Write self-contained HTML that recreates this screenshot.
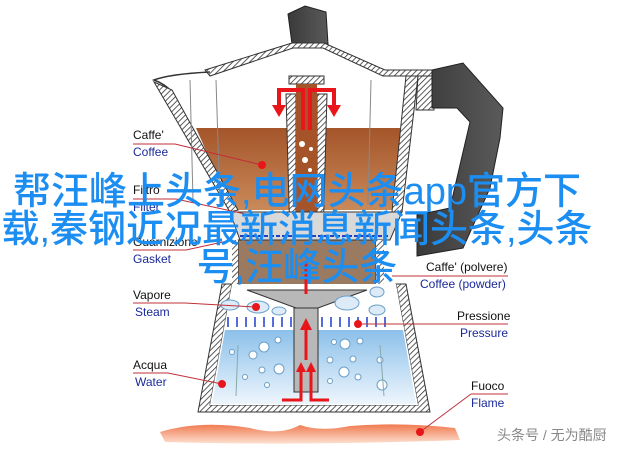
<!DOCTYPE html>
<html><head><meta charset="utf-8"><style>
html,body{margin:0;padding:0;background:#fff;width:640px;height:449px;overflow:hidden;position:relative}
svg{position:absolute;left:0;top:0}
.ov{position:absolute;left:0;top:173px;width:594px;text-align:center;font-family:"Liberation Sans","Noto Sans CJK SC",sans-serif;font-size:38px;line-height:38px;color:#1c8ef2;font-weight:500}
</style></head><body>
<svg width="640" height="449" viewBox="0 0 640 449" font-family="Liberation Sans, sans-serif" font-size="12">
<defs>
<pattern id="h" width="4" height="4" patternUnits="userSpaceOnUse" patternTransform="rotate(45)"><rect width="4" height="4" fill="#fff"/><line x1="0" y1="0" x2="0" y2="4" stroke="#333" stroke-width="1.6"/></pattern>
<linearGradient id="cof" x1="0" y1="0" x2="0" y2="1"><stop offset="0" stop-color="#a4552a"/><stop offset="1" stop-color="#c98a5a"/></linearGradient>
<linearGradient id="wat" x1="0" y1="0" x2="0" y2="1"><stop offset="0" stop-color="#8cc0ea"/><stop offset="1" stop-color="#eef6fd"/></linearGradient>
<linearGradient id="hd" x1="0" y1="0" x2="1" y2="0"><stop offset="0" stop-color="#3a3a3a"/><stop offset="1" stop-color="#5a5a5a"/></linearGradient>
<linearGradient id="fl" x1="0" y1="0" x2="0" y2="1"><stop offset="0" stop-color="#f07a50"/><stop offset="1" stop-color="#fde0d0"/></linearGradient>
</defs>
<polygon points="288,14 305,6 326,12 328,44 292,44" fill="url(#hd)" stroke="#222"/>
<polygon points="205,70 292,43 324,43 385,70 434,70 434,76 383,76 323,48 293,48 210,76" fill="url(#h)" stroke="#333"/>
<path d="M210,72 Q170,74 154,80 Q165,84 172,92" fill="none" stroke="#333" stroke-width="1.5"/>
<polygon points="196,128 402,128 398,210 232,210" fill="url(#cof)"/>
<polygon points="154,82 172,90 238,210 230,212" fill="url(#h)" stroke="#333"/>
<polygon points="406,76 418,76 402,212 392,212" fill="url(#h)" stroke="#333"/>
<polygon points="418,76 434,76 434,110 416,110" fill="url(#h)" stroke="#333"/>
<line x1="190" y1="80" x2="193" y2="200" stroke="#888"/>
<line x1="216" y1="80" x2="220" y2="205" stroke="#888"/>
<line x1="371" y1="80" x2="368" y2="205" stroke="#888"/>
<polygon points="432,70 463,63 503,108 500,138 490,188 463,248 417,256 417,215 450,208 460,165 470,122 457,108 432,108" fill="url(#hd)" stroke="#222"/>
<rect x="289" y="76" width="35" height="8" fill="url(#h)" stroke="#333"/>
<polygon points="286,94 296,94 296,240 290,240" fill="url(#h)" stroke="#333"/>
<polygon points="317,94 327,94 323,240 317,240" fill="url(#h)" stroke="#333"/>
<rect x="296" y="84" width="21" height="156" fill="#a5542a"/>
<circle cx="302" cy="144" r="3" fill="#fff"/><circle cx="311" cy="149" r="2" fill="#fff"/><circle cx="305" cy="160" r="3" fill="#fff"/><circle cx="310" cy="170" r="2" fill="#fff"/>
<path d="M303,130 V90 H279 V108 M310,130 V90 H334 V108" fill="none" stroke="#e8151b" stroke-width="4"/>
<polygon points="272,105 286,105 279,117" fill="#e8151b"/><polygon points="327,105 341,105 334,117" fill="#e8151b"/>
<polygon points="230,212 402,212 390,240 240,240" fill="#d9d9d9" stroke="#333"/>
<line x1="240" y1="236" x2="388" y2="236" stroke="#2040c0" stroke-dasharray="4,2" stroke-width="2"/>
<polygon points="238,240 376,240 376,290 238,290" fill="#9a7a60" stroke="#333"/>
<rect x="232" y="240" width="6" height="50" fill="url(#h)"/><rect x="376" y="240" width="8" height="60" fill="url(#h)"/>
<polygon points="222,284 232,284 210,405 418,405 396,284 406,284 430,412 198,412" fill="url(#h)" stroke="#333"/>
<polygon points="232,284 396,284 418,405 210,405" fill="#fff"/>
<polygon points="225,330 403,330 416,404 212,404" fill="url(#wat)"/>
<polygon points="247,290 367,290 318,308 296,308" fill="#b8b8b8" stroke="#333"/>
<rect x="294" y="308" width="24" height="84" fill="#b8b8b8" stroke="#333"/>
<g fill="#dcebf7" stroke="#6a9fc8"><ellipse cx="230" cy="305" rx="9" ry="5"/><ellipse cx="258" cy="307" rx="11" ry="6"/><ellipse cx="279" cy="311" rx="7" ry="4"/><ellipse cx="347" cy="303" rx="12" ry="7"/><ellipse cx="377" cy="310" rx="8" ry="5"/><ellipse cx="377" cy="292" rx="7" ry="5"/></g>
<g stroke="#1e3fcf" stroke-width="1.5">
<path d="M228,317v10M237,317v10M246,317v10M255,317v10M264,317v10M273,317v10M282,317v10M291,317v10M322,317v10M331,317v10M340,317v10M349,317v10M358,317v10M367,317v10M376,317v10M385,317v10"/></g>
<g fill="#fff" stroke="#6a9fc8"><circle cx="264" cy="347" r="5"/><circle cx="253" cy="355" r="4"/><circle cx="232" cy="352" r="2.5"/><circle cx="278" cy="340" r="3"/><circle cx="262" cy="370" r="3"/><circle cx="279" cy="369" r="5"/><circle cx="245" cy="377" r="2.5"/><circle cx="267" cy="385" r="2.5"/><circle cx="345" cy="344" r="5"/><circle cx="334" cy="342" r="2.5"/><circle cx="360" cy="341" r="3"/><circle cx="330" cy="360" r="3"/><circle cx="353" cy="359" r="3"/><circle cx="344" cy="372" r="5"/><circle cx="330" cy="381" r="2.5"/><circle cx="358" cy="377" r="3"/><circle cx="380" cy="360" r="3"/><circle cx="382" cy="385" r="5"/></g>
<line x1="238" y1="345" x2="236" y2="396" stroke="#8aa"/><line x1="380" y1="345" x2="384" y2="396" stroke="#8aa"/>
<g fill="none" stroke="#e8151b" stroke-width="3"><path d="M306,294 V262"/><path d="M306,360 V330"/><path d="M282,400 H301 V370 M329,400 H311 V370"/></g>
<g fill="#e8151b"><polygon points="300,330 312,330 306,318"/><polygon points="296,372 306,372 301,362"/><polygon points="306,372 316,372 311,362"/></g>
<path d="M160,432 Q200,420 250,428 Q280,436 300,425 Q320,432 350,426 Q400,422 455,428 L460,440 Q300,446 165,442 Z" fill="url(#fl)"/>
<g stroke="#c0303a" stroke-width="1" fill="none">
<path d="M133,144 H175 L262,165"/><path d="M133,199 H176 L250,215"/><path d="M133,250 H186 L232,240"/><path d="M426,276 H508 M426,276 H392"/><path d="M133,303 H185 L256,307"/><path d="M457,324 H508 M457,324 H358"/><path d="M133,373 H168 L222,384"/><path d="M471,394 H508 M471,394 L420,432"/></g>
<g fill="#e8151b"><circle cx="262" cy="165" r="4"/><circle cx="256" cy="307" r="4"/><circle cx="358" cy="324" r="4"/><circle cx="222" cy="384" r="4"/><circle cx="420" cy="432" r="4"/></g>
<g fill="#111"><text x="133" y="139">Caffe'</text><text x="133" y="194">Filtro</text><text x="133" y="246">Guarnizione</text><text x="426" y="271">Caffe' (polvere)</text><text x="133" y="299">Vapore</text><text x="457" y="320">Pressione</text><text x="133" y="369">Acqua</text><text x="471" y="390">Fuoco</text></g>
<g fill="#1a2a9a"><text x="133" y="156">Coffee</text><text x="133" y="211">Filter</text><text x="133" y="263">Gasket</text><text x="420" y="288">Coffee (powder)</text><text x="135" y="316">Steam</text><text x="460" y="337">Pressure</text><text x="135" y="386">Water</text><text x="471" y="407">Flame</text></g>
<text x="497" y="440" fill="#888" font-family="Liberation Sans, Noto Sans CJK SC, sans-serif" font-size="14">头条号 / 无为酷厨</text>
</svg>
<div class="ov">帮汪峰上头条,电网头条app官方下<br>载,秦钢近况最新消息新闻头条,头条<br>号,汪峰头条</div>
</body></html>
